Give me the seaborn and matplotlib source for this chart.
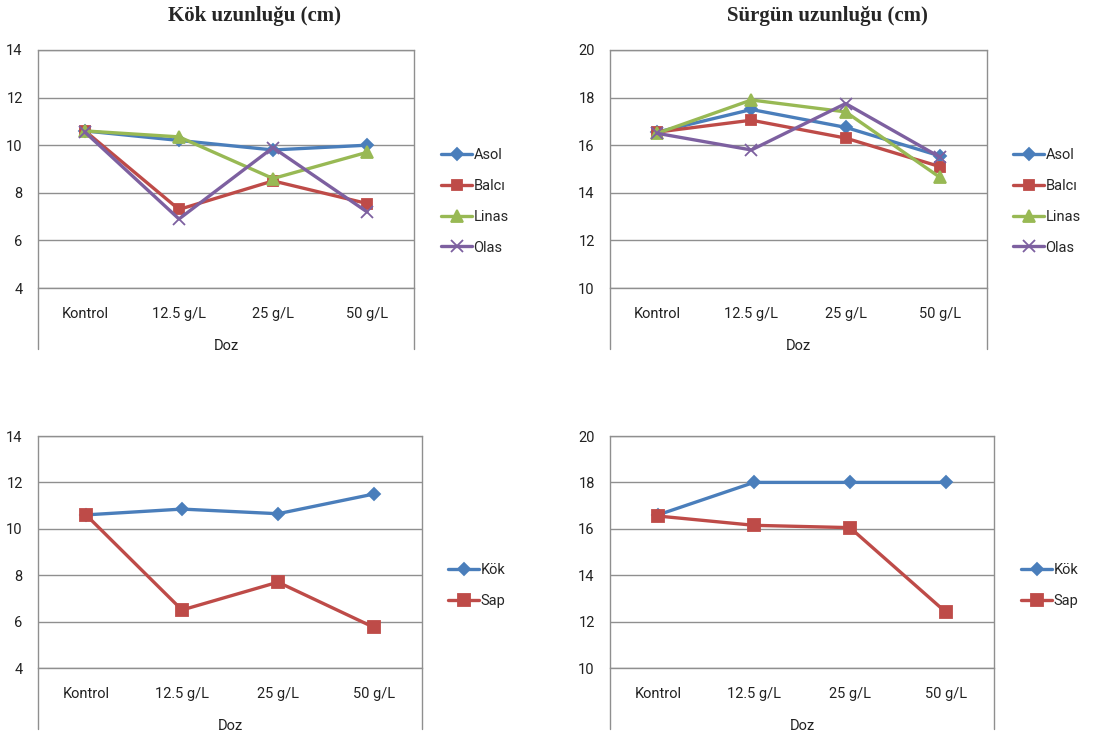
import matplotlib
matplotlib.use('Agg')
import matplotlib.pyplot as plt
import seaborn as sns
import pandas as pd

# data
doz = ['Kontrol', '12.5 g/L', '25 g/L', '50 g/L']
cesitler = ['Asol', 'Balcı', 'Linas', 'Olas']

kok_asol = [10.6, 10.2, 9.8, 10.0]
kok_balci = [10.6, 7.3, 8.5, 7.55]
kok_linas = [10.6, 10.35, 8.6, 9.7]
kok_olas = [10.55, 6.9, 9.9, 7.2]

surgun_asol = [16.55, 17.5, 16.75, 15.55]
surgun_balci = [16.55, 17.05, 16.3, 15.1]
surgun_linas = [16.5, 17.9, 17.4, 14.65]
surgun_olas = [16.5, 15.8, 17.75, 15.5]

gruplar = ['Kök', 'Sap']
kok2_kok = [10.6, 10.85, 10.65, 11.5]
kok2_sap = [10.6, 6.5, 7.7, 5.75]
surgun2_kok = [16.6, 18.0, 18.0, 18.0]
surgun2_sap = [16.55, 16.15, 16.05, 12.4]

renkler = ['#4A7EBB', '#BE4B48', '#98B954', '#7D60A0']
isaretler = ['D', 's', '^', 'x']

sns.set_style('white')
plt.rcParams['font.family'] = ['Roboto', 'DejaVu Sans']

W, H = 1115, 736
fig = plt.figure(figsize=(W / 100, H / 100), dpi=100)
GRI = '#8f8f8f'


def panel(box, names, series, ylim, leg_x, leg_y, title=None, msizes=None):
    l, t, r, b = box
    ax = fig.add_axes([l / W, 1 - b / H, (r - l) / W, (b - t) / H])
    for i, (name, vals) in enumerate(zip(names, series)):
        df = pd.DataFrame({'Doz': pd.Categorical(doz, categories=doz, ordered=True),
                           'deger': vals})
        sns.lineplot(data=df, x='Doz', y='deger', color=renkler[i], marker=isaretler[i],
                     markersize=msizes[name], markeredgecolor=renkler[i],
                     markeredgewidth=1.3, linewidth=2.4, label=name, ax=ax)
    ax.set_xlim(-0.5, 3.5)
    ax.set_ylim(*ylim)
    ax.set_yticks(range(ylim[0], ylim[1] + 1, 2))
    ax.set_xticks(range(4))
    ax.set_xticklabels(doz)
    ax.grid(axis='y', color=GRI, linewidth=1)
    ax.set_axisbelow(True)
    for s in ['top', 'bottom']:
        ax.spines[s].set_color(GRI)
        ax.spines[s].set_linewidth(1)
    for s in ['left', 'right']:
        ax.spines[s].set_visible(False)
    ext = 61 / (b - t)
    for xx in (0, 1):
        ax.plot([xx, xx], [1, -ext], transform=ax.transAxes, color=GRI,
                linewidth=1, clip_on=False)
    ax.tick_params(axis='y', length=0, pad=11, labelsize=10.5, labelcolor='#222222')
    ax.tick_params(axis='x', length=0, pad=14, labelsize=10.5, labelcolor='#222222')
    ax.set_xlabel('Doz', fontsize=10.5, labelpad=13, color='#222222')
    ax.set_ylabel('')
    handles, labels = ax.get_legend_handles_labels()
    ax.legend(handles, labels, loc='upper left',
              bbox_to_anchor=(leg_x / W, 1 - leg_y / H), bbox_transform=fig.transFigure,
              frameon=False, borderpad=0, handlelength=2.1, handletextpad=0.1,
              labelspacing=1.15, fontsize=10.5)
    if title:
        fig.text(((l + r) / 2 + 29) / W, 1 - 16 / H, title, ha='center', va='center',
                 family='Liberation Serif', fontweight='bold', fontsize=15)
    return ax


ust = {'Asol': 6, 'Balcı': 7.5, 'Linas': 8, 'Olas': 8}
panel((38, 50, 414, 288), cesitler, [kok_asol, kok_balci, kok_linas, kok_olas],
      (4, 14), 434, 141, title='Kök uzunluğu (cm)', msizes=ust)
panel((610, 50, 987, 288), cesitler, [surgun_asol, surgun_balci, surgun_linas, surgun_olas],
      (10, 20), 1006, 141, title='Sürgün uzunluğu (cm)', msizes=ust)
alt = {'Kök': 6.5, 'Sap': 9}
panel((38, 436, 422, 668), gruplar, [kok2_kok, kok2_sap], (4, 14), 441, 556, msizes=alt)
panel((610, 436, 994, 668), gruplar, [surgun2_kok, surgun2_sap], (10, 20), 1014, 556, msizes=alt)

fig.savefig('out.png', dpi=100)
